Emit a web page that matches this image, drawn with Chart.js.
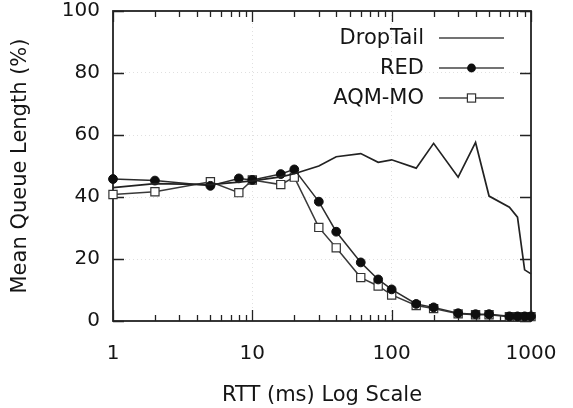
<!DOCTYPE html>
<html>
<head>
<meta charset="utf-8">
<script src="https://cdn.jsdelivr.net/npm/chart.js@4/dist/chart.umd.min.js"></script>
<style>
  html, body { margin: 0; padding: 0; background: #fff; }
  #c { display: block; }
</style>
</head>
<body>
<canvas id="c" width="573" height="408"></canvas>
<script>
// ---- data ----
const rtt = [1, 2, 5, 8, 10, 16, 20, 30, 40, 60, 80, 100, 150, 200, 300, 400, 500, 700, 800, 900, 1000];
const dropTail = [43, 44.3, 44, 44.8, 45.2, 46.5, 47.5, 50, 53, 54, 51.2, 52, 49.3, 57.3, 46.4, 57.6, 40.3, 36.7, 33.5, 16.5, 15.2];
const red      = [45.8, 45.3, 43.6, 46, 45.5, 47.4, 48.9, 38.5, 28.8, 18.9, 13.4, 10.2, 5.5, 4.4, 2.5, 2.2, 2.2, 1.5, 1.5, 1.5, 1.5];
const aqmMo    = [40.8, 41.7, 44.9, 41.4, 45.5, 44, 46.4, 30.2, 23.6, 14, 11.3, 8.4, 5, 4, 2.3, 2, 2, 1.4, 1.4, 1.4, 1.4];
const seriesLabels = ['DropTail', 'RED', 'AQM-MO'];
const xTicks = [1, 10, 100, 1000];
const yTicks = [0, 20, 40, 60, 80, 100];
const xTitle = 'RTT (ms) Log Scale';
const yTitle = 'Mean Queue Length (%)';

const FONT = 'DejaVu Sans, Verdana, sans-serif';
const INK = '#151515';
const toPts = vals => rtt.map((x, i) => ({ x, y: vals[i] }));

// frame with inward ticks (gnuplot style)
const framePlugin = {
  id: 'frame',
  beforeDatasetsDraw(chart) {
    const { ctx, chartArea: a, scales: { x, y } } = chart;
    const MAJ = 11, MIN = 6;
    ctx.save();
    ctx.strokeStyle = '#222';
    ctx.lineWidth = 1.3;
    ctx.beginPath();
    for (const v of yTicks) {
      const py = Math.round(y.getPixelForValue(v)) + 0.5;
      ctx.moveTo(a.left, py); ctx.lineTo(a.left + MAJ, py);
      ctx.moveTo(a.right, py); ctx.lineTo(a.right - MAJ, py);
    }
    for (const v of xTicks) {
      const px = Math.round(x.getPixelForValue(v)) + 0.5;
      ctx.moveTo(px, a.bottom); ctx.lineTo(px, a.bottom - MAJ);
      ctx.moveTo(px, a.top); ctx.lineTo(px, a.top + MAJ);
    }
    for (let d = 0; d < xTicks.length - 1; d++) {
      for (let k = 2; k <= 9; k++) {
        const px = Math.round(x.getPixelForValue(xTicks[d] * k)) + 0.5;
        ctx.moveTo(px, a.bottom); ctx.lineTo(px, a.bottom - MIN);
        ctx.moveTo(px, a.top); ctx.lineTo(px, a.top + MIN);
      }
    }
    ctx.stroke();
    ctx.lineWidth = 1.8;
    ctx.strokeRect(a.left, a.top, a.right - a.left, a.bottom - a.top);
    ctx.restore();
  }
};

// gnuplot-like legend: right-aligned text, sample line on the right
const legendPlugin = {
  id: 'gpLegend',
  afterDraw(chart) {
    const { ctx, chartArea: a } = chart;
    const textRight = a.right - 107;
    const x0 = a.right - 92, x1 = a.right - 27;
    const xm = (x0 + x1) / 2;
    ctx.save();
    ctx.font = '21px ' + FONT;
    ctx.textAlign = 'right';
    ctx.textBaseline = 'middle';
    chart.data.datasets.forEach((ds, i) => {
      const yy = a.top + 27 + 30 * i;
      ctx.fillStyle = INK;
      ctx.fillText(ds.label, textRight, yy + 1);
      ctx.strokeStyle = '#444';
      ctx.lineWidth = 1.6;
      ctx.beginPath(); ctx.moveTo(x0, yy); ctx.lineTo(x1, yy); ctx.stroke();
      if (ds.pointRadius > 0) {
        if (ds.pointStyle === 'circle') {
          ctx.fillStyle = ds.pointBackgroundColor;
          ctx.beginPath(); ctx.arc(xm, yy, ds.pointRadius, 0, Math.PI * 2); ctx.fill();
        } else {
          const s = ds.pointRadius * Math.SQRT1_2;
          ctx.fillStyle = ds.pointBackgroundColor;
          ctx.strokeStyle = ds.pointBorderColor;
          ctx.lineWidth = ds.pointBorderWidth;
          ctx.fillRect(xm - s, yy - s, 2 * s, 2 * s);
          ctx.strokeRect(xm - s, yy - s, 2 * s, 2 * s);
        }
      }
    });
    ctx.restore();
  }
};

new Chart(document.getElementById('c'), {
  type: 'line',
  data: {
    datasets: [
      { label: seriesLabels[0], data: toPts(dropTail), borderColor: '#222', borderWidth: 1.7,
        pointRadius: 0, tension: 0, fill: false, clip: false },
      { label: seriesLabels[1], data: toPts(red), borderColor: '#2c2c2c', borderWidth: 1.5,
        pointStyle: 'circle', pointRadius: 4.4, pointBackgroundColor: '#0e0e0e', pointBorderColor: '#0e0e0e',
        pointBorderWidth: 1, tension: 0, fill: false, clip: false },
      { label: seriesLabels[2], data: toPts(aqmMo), borderColor: '#3a3a3a', borderWidth: 1.5,
        pointStyle: 'rect', pointRadius: 5.8, pointBackgroundColor: '#fff', pointBorderColor: '#333',
        pointBorderWidth: 1.2, tension: 0, fill: false, clip: false }
    ]
  },
  options: {
    responsive: false,
    animation: false,
    devicePixelRatio: 1,
    layout: { padding: { top: 11, right: 42, left: 0, bottom: 0 } },
    plugins: { legend: { display: false }, tooltip: { enabled: false } },
    scales: {
      x: {
        type: 'logarithmic', min: 1, max: 1000,
        afterBuildTicks: s => { s.ticks = xTicks.map(v => ({ value: v })); },
        afterFit: s => { s.height = 87; s.paddingLeft = 0; s.paddingRight = 0; },
        ticks: { font: { family: FONT, size: 20 }, color: INK, padding: 21, maxRotation: 0,
                 callback: v => String(v) },
        grid: { color: ctx => (ctx.tick && (ctx.tick.value === 1 || ctx.tick.value === 1000)) ? 'rgba(0,0,0,0)' : 'rgba(0,0,0,0.12)',
                drawTicks: false, lineWidth: 1 },
        border: { display: false, dash: [1, 3] },
        title: { display: true, text: xTitle, font: { family: FONT, size: 21 }, color: INK,
                 padding: { top: 0, bottom: 0 } }
      },
      y: {
        min: 0, max: 100,
        afterBuildTicks: s => { s.ticks = yTicks.map(v => ({ value: v })); },
        afterFit: s => { s.width = 113; s.paddingTop = 0; s.paddingBottom = 0; },
        ticks: { font: { family: FONT, size: 20 }, color: INK, padding: 13 },
        grid: { color: ctx => (ctx.tick && (ctx.tick.value === 0 || ctx.tick.value === 100)) ? 'rgba(0,0,0,0)' : 'rgba(0,0,0,0.12)',
                drawTicks: false, lineWidth: 1 },
        border: { display: false, dash: [1, 3] },
        title: { display: true, text: yTitle, font: { family: FONT, size: 21 }, color: INK,
                 padding: { top: 8, bottom: 0 } }
      }
    }
  },
  plugins: [framePlugin, legendPlugin]
});
</script>
</body>
</html>
